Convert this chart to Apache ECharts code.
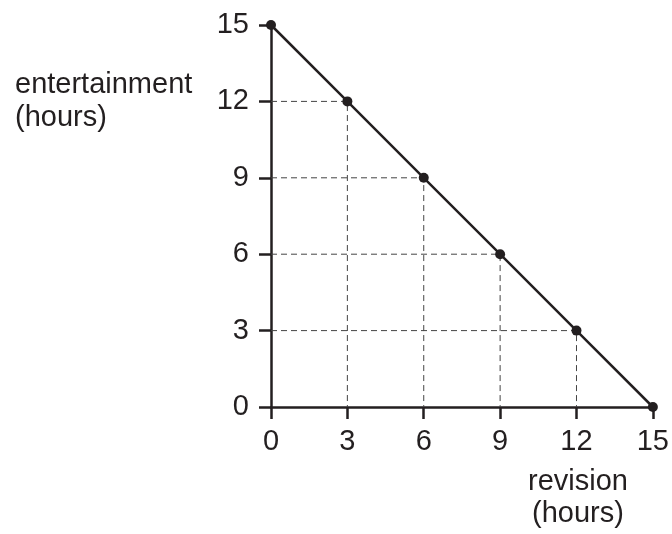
<!DOCTYPE html>
<html lang="en">
<head>
  <meta charset="UTF-8">
  <title>revision vs entertainment</title>
  <script src="https://cdn.jsdelivr.net/npm/echarts@6/dist/echarts.min.js"></script>
  <style>
    html, body { margin: 0; padding: 0; background: #fff; }
  </style>
</head>
<body>
  <div id="main" style="width: 672px;height:534px;"></div>
  <script>
    // hours of revision vs hours of entertainment
    var revision = [0, 3, 6, 9, 12, 15]
    var entertainment = [15, 12, 9, 6, 3, 0]
    var ticks = [0, 3, 6, 9, 12, 15]

    var ink = '#231f20'
    var font = 'Liberation Sans, Arial, sans-serif'

    var points = revision.map((x, i) => [x, entertainment[i]])

    // dashed guides from each inner point to both axes
    var guides = []
    points.forEach(p => {
      if (p[0] > 0 && p[1] > 0) {
        guides.push({
          type: 'line',
          data: [[0, p[1]], [p[0], p[1]], [p[0], 0]],
          symbol: 'none',
          silent: true,
          z: 1,
          lineStyle: { color: '#444', width: 1, type: [6, 4] }
        })
      }
    })

    var myChart = echarts.init(document.getElementById('main'))
    myChart.setOption({
      animation: false,
      grid: { left: 271, right: 17, top: 25, bottom: 127 },
      xAxis: {
        type: 'value',
        min: 0, max: 15, interval: 3,
        axisLine: { show: true, onZero: false, lineStyle: { color: ink, width: 2.5 } },
        axisTick: { show: true, length: 12, lineStyle: { color: ink, width: 2.5 } },
        axisLabel: { color: ink, fontSize: 29, fontFamily: font, margin: 20,
          formatter: v => ticks.indexOf(v) >= 0 ? String(v) : '' },
        splitLine: { show: false }
      },
      yAxis: {
        type: 'value',
        min: 0, max: 15, interval: 3,
        axisLine: { show: true, onZero: false, lineStyle: { color: ink, width: 2.5 } },
        axisTick: { show: true, length: 12, lineStyle: { color: ink, width: 2.5 } },
        axisLabel: { color: ink, fontSize: 29, fontFamily: font, margin: 22,
          formatter: v => ticks.indexOf(v) >= 0 ? String(v) : '' },
        splitLine: { show: false }
      },
      graphic: [
        {
          type: 'text', z: 10,
          style: { x: 15, y: 68, text: 'entertainment\n(hours)', fill: ink,
            font: '29px ' + font, lineHeight: 33, verticalAlign: 'top' }
        },
        {
          type: 'text', z: 10,
          style: { x: 578, y: 466, text: 'revision\n(hours)', fill: ink,
            font: '29px ' + font, lineHeight: 32, align: 'center', verticalAlign: 'top' }
        }
      ],
      series: guides.concat([{
        type: 'line',
        data: points,
        clip: false,
        z: 5,
        symbol: 'circle',
        symbolSize: 10,
        itemStyle: { color: ink },
        lineStyle: { color: ink, width: 2.5 }
      }])
    })
  </script>
</body>
</html>
